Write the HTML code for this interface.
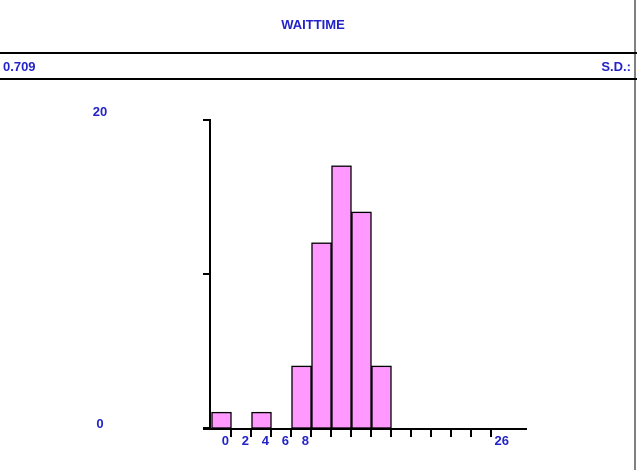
<!DOCTYPE html>
<html><head><style>
body{margin:0;background:#fff;width:637px;height:470px;overflow:hidden;font-family:"Liberation Sans",sans-serif}
text{font-family:"Liberation Sans",sans-serif;font-weight:bold;font-size:13px;fill:#2323c8}
</style></head><body>
<svg width="637" height="470">
<text x="313" y="29" text-anchor="middle">WAITTIME</text>
<line x1="0" y1="53" x2="637" y2="53" stroke="#000" stroke-width="2"/>
<line x1="0" y1="79" x2="637" y2="79" stroke="#000" stroke-width="2"/>
<line x1="635" y1="0" x2="635" y2="470" stroke="#000" stroke-width="1"/>
<text x="3" y="71">0.709</text>
<text x="631" y="71" text-anchor="end">S.D.:</text>
<g id="plot"></g>
</svg>
<script>
const counts=[1,0,1,0,4,12,17,14,4,0,0,0,0,0,0];
const yTicks=[0,10,20];
const yLabels=["0","20"];
const xLabels=["0","2","4","6","8","26"];
const xLabelBins=[0,1,2,3,4,14];
const x0=212,bw=20,yBase=428,yTop=120,yMax=20;
const ns="http://www.w3.org/2000/svg",g=document.getElementById('plot');
const X=i=>x0+i*bw, Y=v=>yBase-(yBase-yTop)*v/yMax;
function mk(t,a){const e=document.createElementNS(ns,t);for(const k in a)e.setAttribute(k,a[k]);g.appendChild(e);return e;}
counts.forEach((c,i)=>{if(c<=0)return;
 const r=mk('rect',{x:X(i),y:Y(c),width:bw-1,height:yBase-Y(c),fill:'#ff99ff',stroke:'#000','stroke-width':1.3});
 
 });
const ya=mk('line',{x1:210,y1:yTop,x2:210,y2:yBase,stroke:'#000','stroke-width':2});


yTicks.forEach(v=>{const t=mk('line',{x1:203,y1:Y(v),x2:211,y2:Y(v),stroke:'#000','stroke-width':2});
 
 });
const yl=mk('text',{x:100,y:116,'text-anchor':'middle'});yl.textContent=yLabels[1];


const yl0=mk('text',{x:100,y:428,'text-anchor':'middle'});yl0.textContent=yLabels[0];


const xa=mk('line',{x1:203,y1:yBase+1,x2:527,y2:yBase+1,stroke:'#000','stroke-width':2});


for(let k=1;k<=14;k++){const t=mk('line',{x1:X(k)-1,y1:yBase,x2:X(k)-1,y2:yBase+9,stroke:'#000','stroke-width':2});
 
 }
xLabels.forEach((s,j)=>{const t=mk('text',{x:X(xLabelBins[j]+1)-3,y:yBase+17,'text-anchor':'end'});t.textContent=s;
 
 });
</script>
</body></html>
